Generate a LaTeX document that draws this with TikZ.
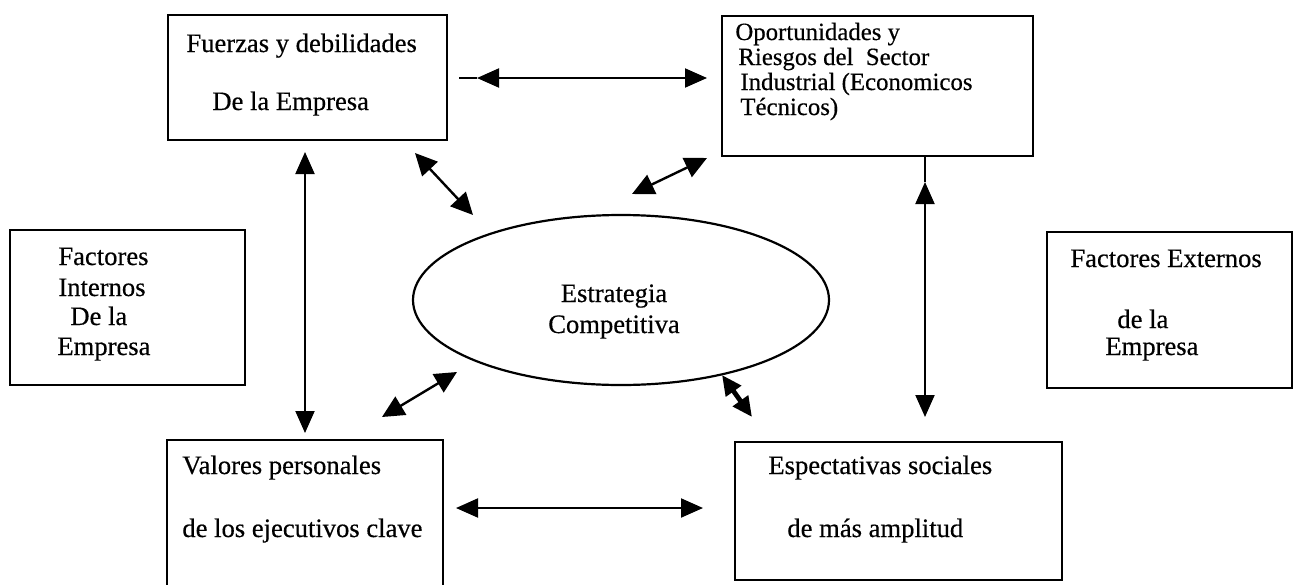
\documentclass[tikz,border=0pt]{standalone}
\usepackage{fontspec}
\setmainfont{Liberation Serif}
\newfontfamily\scanfont{Liberation Serif}[FakeBold=0.45]
\usetikzlibrary{arrows.meta,shapes.geometric}
\begin{document}
\begin{tikzpicture}[x=0.5pt,y=-0.5pt,
  box/.style={draw, line width=1.3pt, inner sep=0pt},
  txt/.style={anchor=base west, inner sep=0pt, font=\scanfont\fontsize{13.3}{15}\selectfont},
  tight/.style={font=\scanfont\fontsize{12.4}{14}\selectfont},
  ctxt/.style={anchor=base, inner sep=0pt, font=\scanfont\fontsize{13.3}{15}\selectfont},
  arr/.style={line width=1pt, {Triangle[length=11pt,width=9.5pt]}-{Triangle[length=11pt,width=9.5pt]}},
  darr/.style={line width=1.2pt, {Triangle[length=11pt,width=10.5pt]}-{Triangle[length=11pt,width=10.5pt]}},
]
\useasboundingbox (0,0) rectangle (1296,584);

% boxes
\node[box, minimum width=139.5pt, minimum height=62.5pt] (FD) at (307.5,77.5) {};
\node[box, minimum width=155.5pt, minimum height=70pt] (OR) at (877.5,86) {};
\node[box, minimum width=117.5pt, minimum height=77.5pt] (FI) at (127.5,307.5) {};
\node[box, minimum width=122.5pt, minimum height=78pt] (FE) at (1169.5,310) {};
\node[box, minimum width=138pt, minimum height=80pt] (VP) at (305,520) {};
\node[box, minimum width=163.5pt, minimum height=69pt] (ES) at (898.5,511) {};
\node[draw, ellipse, line width=1.1pt, inner sep=0pt, minimum width=208pt, minimum height=85pt] (EC) at (621,300) {};

% texts
\node[txt] (fd1) at (186,52) {Fuerzas y debilidades};
\node[txt] (fd2) at (212,110) {De la Empresa};

\node[txt, tight] (or1) at (735,40) {Oportunidades y};
\node[txt, tight] (or2) at (738,65) {Riesgos del\ \ Sector};
\node[txt, tight] (or3) at (740,90) {Industrial (Economicos};
\node[txt, tight] (or4) at (740,115) {Técnicos)};

\node[txt] (fi1) at (58,265) {Factores};
\node[txt] (fi2) at (58,296) {Internos};
\node[txt] (fi3) at (70,325) {De la};
\node[txt] (fi4) at (57,355) {Empresa};

\node[txt] (fe1) at (1070,267) {Factores Externos};
\node[txt] (fe2) at (1117,328) {de la};
\node[txt] (fe3) at (1105,355) {Empresa};

\node[ctxt] (ec1) at (614,302) {Estrategia};
\node[ctxt] (ec2) at (614,333) {Competitiva};

\node[txt] (vp1) at (182,474) {Valores personales};
\node[txt] (vp2) at (182,537) {de los ejecutivos clave};

\node[txt] (es1) at (768,474) {Espectativas sociales};
\node[txt] (es2) at (787,537) {de más amplitud};

% arrow end points
\coordinate (h1a) at (459,78);
\coordinate (h1t) at (477,78);
\coordinate (h1b) at (707,78);
\coordinate (v1a) at (305,152);
\coordinate (v1b) at (305,433);
\coordinate (v2a) at (925,182);
\coordinate (v2b) at (925,417);
\coordinate (d1a) at (415,153);
\coordinate (d1b) at (473,215);
\coordinate (d2a) at (707,158);
\coordinate (d2b) at (632,194);
\coordinate (d3a) at (457,372);
\coordinate (d3b) at (382,417);
\coordinate (d4a) at (722,375);
\coordinate (d4b) at (752,417);
\coordinate (h2a) at (456,508);
\coordinate (h2b) at (703,508);

% connectors
\draw[line width=1pt] (h1a) -- (h1t);
\draw[arr] (h1t) -- (h1b);
\draw[arr] (v1a) -- (v1b);
\draw[line width=1pt] (OR.south -| v2a) -- (v2a);
\draw[arr] (v2a) -- (v2b);
\draw[darr] (d1a) -- (d1b);
\draw[darr] (d2a) -- (d2b);
\draw[darr] (d3a) -- (d3b);
\draw[line width=2.4pt, {Triangle[length=10pt,width=9pt]}-{Triangle[length=10pt,width=9pt]}] (d4a) -- (d4b);
\draw[arr] (h2a) -- (h2b);
\end{tikzpicture}
\end{document}
